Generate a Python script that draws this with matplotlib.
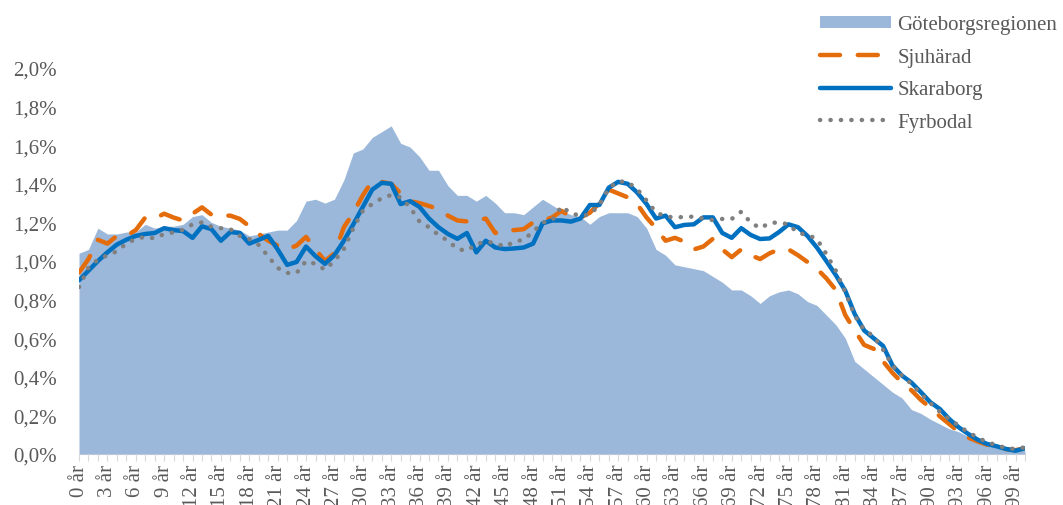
import matplotlib
matplotlib.use("Agg")
import matplotlib.pyplot as plt
from matplotlib.patches import Patch
from matplotlib.lines import Line2D
from matplotlib.ticker import FuncFormatter, MultipleLocator
import numpy as np

plt.rcParams['font.family'] = ['Liberation Serif', 'DejaVu Serif']

ages = list(range(0, 101))
age_labels = [f"{a} år" for a in ages]

goteborg = [1.04, 1.06, 1.17, 1.14, 1.14, 1.15, 1.15, 1.19, 1.17, 1.18,
            1.18, 1.19, 1.23, 1.24, 1.20, 1.18, 1.17, 1.16, 1.13, 1.14,
            1.15, 1.16, 1.16, 1.21, 1.31, 1.32, 1.30, 1.32, 1.42, 1.56,
            1.58, 1.64, 1.67, 1.70, 1.61, 1.59, 1.54, 1.47, 1.47, 1.39,
            1.34, 1.34, 1.31, 1.34, 1.30, 1.25, 1.25, 1.24, 1.28, 1.32,
            1.29, 1.26, 1.24, 1.23, 1.19, 1.23, 1.25, 1.25, 1.25, 1.23,
            1.17, 1.06, 1.03, 0.98, 0.97, 0.96, 0.95, 0.92, 0.89, 0.85,
            0.85, 0.82, 0.78, 0.82, 0.84, 0.85, 0.83, 0.79, 0.77, 0.72,
            0.67, 0.60, 0.48, 0.44, 0.40, 0.36, 0.32, 0.29, 0.23, 0.21,
            0.18, 0.155, 0.13, 0.115, 0.09, 0.075, 0.057, 0.043, 0.031, 0.022, 0.017]

sjuharad = [0.94, 1.01, 1.11, 1.09, 1.13, 1.13, 1.16, 1.225, 1.22, 1.245,
            1.225, 1.21, 1.245, 1.278, 1.24, 1.235, 1.235, 1.218, 1.18, 1.14,
            1.105, 1.08, 1.06, 1.08, 1.125, 1.06, 1.00, 1.04, 1.175, 1.25,
            1.34, 1.415, 1.41, 1.40, 1.35, 1.31, 1.30, 1.285, 1.27, 1.235,
            1.21, 1.205, 1.21, 1.22, 1.145, 1.16, 1.16, 1.165, 1.20, 1.21,
            1.225, 1.26, 1.23, 1.225, 1.25, 1.30, 1.37, 1.35, 1.33, 1.295,
            1.225, 1.17, 1.105, 1.12, 1.10, 1.06, 1.075, 1.115, 1.06, 1.02,
            1.06, 1.03, 1.01, 1.04, 1.06, 1.06, 1.03, 0.995, 0.96, 0.91,
            0.85, 0.72, 0.64, 0.565, 0.545, 0.48, 0.42, 0.37, 0.33, 0.28,
            0.24, 0.195, 0.155, 0.115, 0.085, 0.065, 0.048, 0.035, 0.025, 0.02, 0.03]

skaraborg = [0.90, 0.95, 1.00, 1.045, 1.085, 1.11, 1.13, 1.14, 1.145, 1.17,
             1.16, 1.155, 1.12, 1.18, 1.165, 1.105, 1.15, 1.145, 1.09, 1.11,
             1.13, 1.06, 0.98, 0.995, 1.075, 1.025, 0.985, 1.03, 1.105, 1.19,
             1.28, 1.37, 1.405, 1.40, 1.295, 1.31, 1.28, 1.22, 1.175, 1.14,
             1.115, 1.145, 1.045, 1.105, 1.07, 1.062, 1.065, 1.07, 1.09, 1.195,
             1.21, 1.21, 1.204, 1.22, 1.29, 1.29, 1.38, 1.41, 1.40, 1.355,
             1.295, 1.22, 1.235, 1.175, 1.187, 1.19, 1.226, 1.226, 1.145, 1.12,
             1.17, 1.135, 1.114, 1.117, 1.15, 1.19, 1.175, 1.13, 1.07, 1.00,
             0.927, 0.846, 0.725, 0.64, 0.60, 0.56, 0.458, 0.406, 0.37, 0.32,
             0.268, 0.233, 0.181, 0.138, 0.104, 0.074, 0.052, 0.04, 0.026, 0.017, 0.03]

fyrbodal = [0.865, 0.965, 1.007, 1.03, 1.05, 1.09, 1.115, 1.125, 1.117, 1.14,
            1.148, 1.162, 1.19, 1.20, 1.178, 1.17, 1.165, 1.13, 1.114, 1.083,
            1.024, 0.964, 0.938, 0.938, 1.00, 0.985, 0.955, 1.00, 1.062, 1.17,
            1.26, 1.295, 1.325, 1.342, 1.33, 1.278, 1.204, 1.175, 1.135, 1.105,
            1.062, 1.053, 1.088, 1.10, 1.093, 1.074, 1.10, 1.11, 1.152, 1.20,
            1.209, 1.283, 1.247, 1.235, 1.24, 1.29, 1.377, 1.414, 1.408, 1.373,
            1.313, 1.252, 1.23, 1.226, 1.228, 1.23, 1.22, 1.212, 1.218, 1.218,
            1.255, 1.20, 1.17, 1.197, 1.20, 1.19, 1.145, 1.136, 1.114, 1.036,
            0.95, 0.838, 0.717, 0.644, 0.61, 0.54, 0.458, 0.406, 0.363, 0.311,
            0.264, 0.219, 0.181, 0.147, 0.112, 0.086, 0.06, 0.047, 0.03, 0.026, 0.035]

c_area = '#9BB7D9'
c_orange = '#E46C0A'
c_blue = '#0070C0'
c_gray = '#7F7F7F'
c_text = '#595959'

lw = 3.2
dash_style = (0, (4.5, 4))
dot_style = (0, (0.05, 2.3))

fig = plt.figure(figsize=(10.63, 5.06), dpi=100)
W, H = 1063, 506
ax = fig.add_axes([79 / W, 1 - 455 / H, (1025 - 79) / W, (455 - 69) / H])

ax.fill_between(ages, goteborg, 0, color=c_area, linewidth=0, zorder=1)
ax.plot(ages, sjuharad, color=c_orange, lw=lw, linestyle=dash_style,
        dash_capstyle='round', zorder=3)
ax.plot(ages, skaraborg, color=c_blue, lw=lw, solid_joinstyle='round',
        solid_capstyle='round', zorder=4)
ax.plot(ages, fyrbodal, color=c_gray, lw=lw, linestyle=dot_style,
        dash_capstyle='round', zorder=5)

ax.set_xlim(0, 100)
ax.set_ylim(0, 2.0)

ax.yaxis.set_major_locator(MultipleLocator(0.2))
ax.yaxis.set_major_formatter(FuncFormatter(lambda v, p: f"{v:.1f}%".replace('.', ',')))
ax.tick_params(axis='y', length=0, pad=16, labelsize=15, labelcolor=c_text)

ax.set_xticks(ages[::3])
ax.set_xticklabels(age_labels[::3], rotation=90)
ax.set_xticks(ages, minor=True)
ax.tick_params(axis='x', which='both', direction='out', length=5, width=0.8,
               color='#D9D9D9', labelsize=15, labelcolor=c_text, pad=2)

for s in ['top', 'right', 'left']:
    ax.spines[s].set_visible(False)
ax.spines['bottom'].set_color('#D9D9D9')
ax.spines['bottom'].set_linewidth(0.8)
ax.spines['bottom'].set_zorder(0)

handles = [
    Patch(facecolor=c_area, edgecolor='none', label='Göteborgsregionen'),
    Line2D([], [], color=c_orange, lw=lw, linestyle=dash_style, dash_capstyle='round', label='Sjuhärad'),
    Line2D([], [], color=c_blue, lw=lw, solid_capstyle='round', label='Skaraborg'),
    Line2D([], [], color=c_gray, lw=lw, linestyle=dot_style, dash_capstyle='round', label='Fyrbodal'),
]
leg = fig.legend(handles=handles, loc='upper left', bbox_to_anchor=(812 / W, 1 - 8 / H),
                 frameon=False, fontsize=15, handlelength=3.4, handleheight=0.45,
                 handletextpad=0.3, labelspacing=0.65, borderaxespad=0)
for t in leg.get_texts():
    t.set_color(c_text)

fig.savefig('out.png', dpi=100)
